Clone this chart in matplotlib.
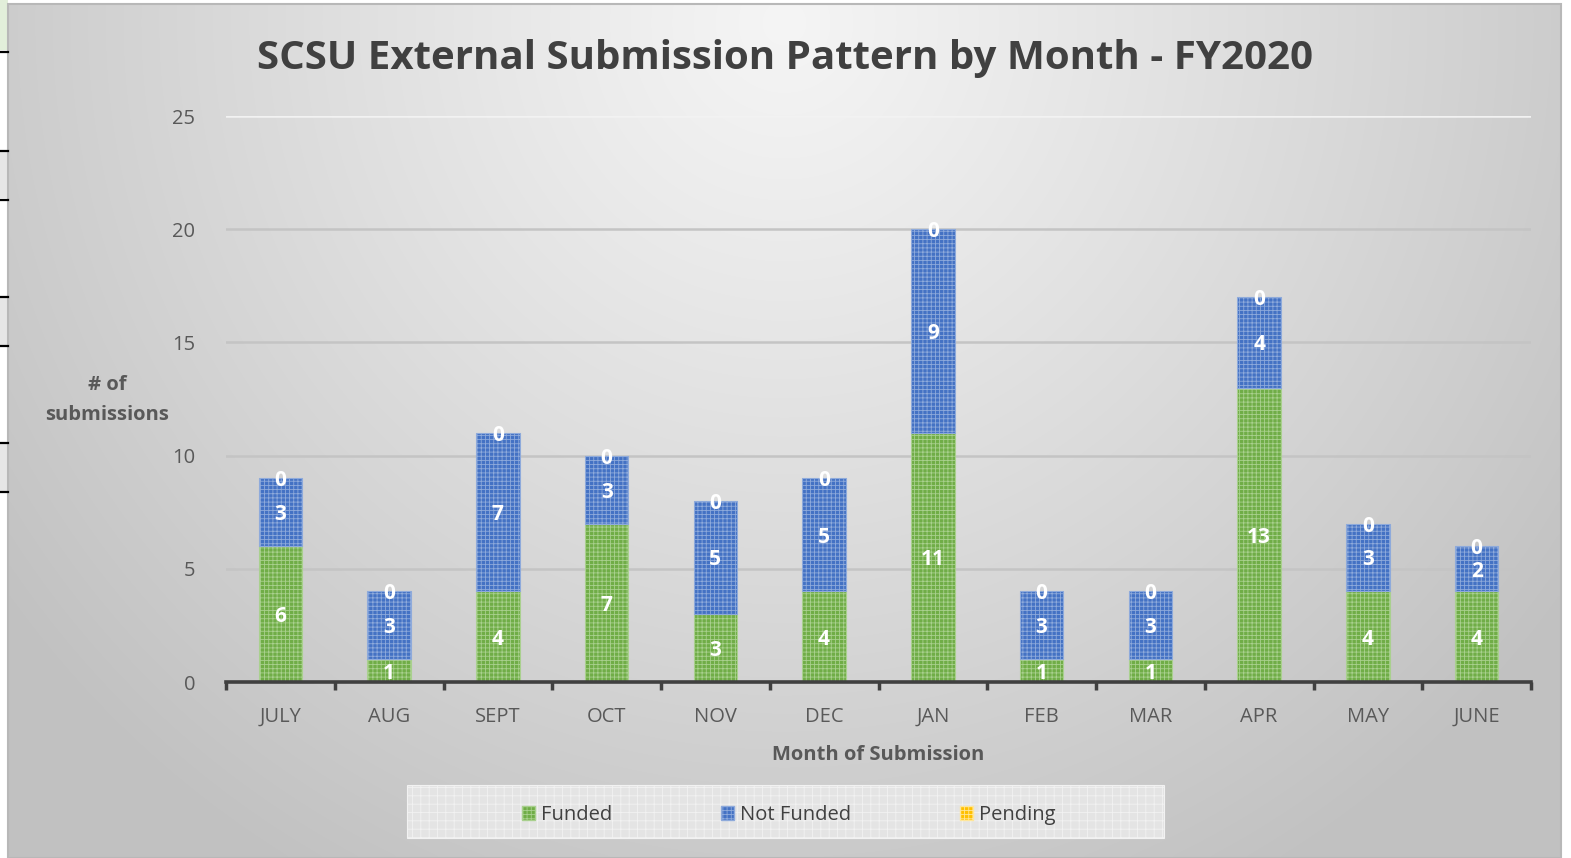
import numpy as np
import matplotlib
matplotlib.use("Agg")
import matplotlib.pyplot as plt
from matplotlib.patches import Rectangle, Patch
from matplotlib.lines import Line2D

months = ["JULY", "AUG", "SEPT", "OCT", "NOV", "DEC", "JAN", "FEB", "MAR", "APR", "MAY", "JUNE"]
funded = [6, 1, 4, 7, 3, 4, 11, 1, 1, 13, 4, 4]
not_funded = [3, 3, 7, 3, 5, 5, 9, 3, 3, 4, 3, 2]
pending = [0, 0, 0, 0, 0, 0, 0, 0, 0, 0, 0, 0]
series_names = ["Funded", "Not Funded", "Pending"]
yticks = [0, 5, 10, 15, 20, 25]

W, H = 1571, 858
plt.rcParams['font.family'] = ['Open Sans', 'DejaVu Sans']
plt.rcParams['hatch.linewidth'] = 0.6
fig = plt.figure(figsize=(W / 100, H / 100), dpi=100)
fig.patch.set_facecolor("white")

def fx(px):
    return px / W

def fy(py):
    return 1 - py / H

# spreadsheet remnants on the left edge
fig.add_artist(Rectangle((0, fy(50)), fx(8), 50 / H, transform=fig.transFigure, facecolor="#e2efda", edgecolor="none"))
for yy, h in [(150, 48), (297, 48), (443, 48)]:
    fig.add_artist(Rectangle((0, fy(yy + h)), fx(8), h / H, transform=fig.transFigure, facecolor="#e6e6e6", edgecolor="none"))
for yy in [52, 151, 200, 297, 346, 443, 492]:
    fig.add_artist(Line2D([0, fx(8)], [fy(yy), fy(yy)], transform=fig.transFigure, color="black", lw=1.6))

# gradient background of chart area
bg = fig.add_axes([fx(8), 0, fx(1561 - 8), fy(4)])
xx = np.linspace(0, 1, 400)
yy_ = np.linspace(0, 1, 220)
X, Y = np.meshgrid(xx, yy_)
R = np.sqrt(((X - 0.5) / 0.62) ** 2 + ((Y - 0.02) / 1.15) ** 2)
R = np.clip(R, 0, 1)
val = 0.96 - 0.2 * R ** 1.1
bg.imshow(np.dstack([val, val, val]), aspect="auto", extent=[0, 1, 1, 0], interpolation="bicubic")
bg.set_xlim(0, 1)
bg.set_ylim(1, 0)
bg.axis("off")
fig.add_artist(Rectangle((fx(8), 0), fx(1561 - 8), fy(4), transform=fig.transFigure, facecolor="none", edgecolor="#b8b8b8", lw=1.5))

# main axes
ax = fig.add_axes([fx(226), fy(682), fx(1531 - 226), (682 - 116) / H])
ax.patch.set_alpha(0)
x = np.arange(len(months))
colors = ["#70ad47", "#4472c4", "#ffc000"]
edges = ["#a9d08e", "#8eaadb", "none"]
lws = [0.8, 0.8, 0]
bottoms = np.zeros(len(months))
containers = []
for vals, c, e, lw, name in zip([funded, not_funded, pending], colors, edges, lws, series_names):
    bc = ax.bar(x, vals, width=0.4, bottom=bottoms, color=c, edgecolor=e, linewidth=lw,
                hatch="++++" if lw else None, label=name, zorder=3)
    containers.append(bc)
    bottoms = bottoms + np.array(vals)

for bc in containers:
    labs = ax.bar_label(bc, label_type="center", color="white", fontsize=15, fontweight="bold", zorder=5)
    for t in labs:
        t.set_va("center_baseline")

ax.set_xlim(-0.5, len(months) - 0.5)
ax.set_ylim(0, 25)
ax.set_yticks(yticks)
ax.set_yticklabels([str(t) for t in yticks])
ax.set_xticks(x)
ax.set_xticklabels(months)
ax.set_xticks(np.arange(-0.5, len(months), 1), minor=True)
ax.tick_params(axis="x", which="major", length=0, pad=18, labelsize=14.5, labelcolor="#595959")
ax.tick_params(axis="x", which="minor", length=6, width=2.5, color="#404040", direction="out")
ax.tick_params(axis="y", length=0, pad=22, labelsize=14.5, labelcolor="#595959")
for yv in yticks[1:]:
    ax.axhline(yv, color="#c4c4c4" if yv < 25 else "#f2f2f2", lw=1.8, zorder=1)
for s in ["top", "right", "left"]:
    ax.spines[s].set_visible(False)
ax.spines["bottom"].set_color("#404040")
ax.spines["bottom"].set_linewidth(2.6)
ax.spines["bottom"].set_zorder(4)
ax.set_xlabel("Month of Submission", fontsize=14.5, fontweight="bold", color="#595959", labelpad=13)

fig.text(fx(107), fy(400), "# of\nsubmissions", ha="center", va="center", fontsize=14.5,
         fontweight="bold", color="#595959", linespacing=1.6)
fig.text(fx(785), fy(58), "SCSU External Submission Pattern by Month - FY2020", ha="center", va="center",
         fontsize=29, fontweight="bold", color="#404040")

# legend box
fig.add_artist(Rectangle((fx(407), fy(838)), fx(1164 - 407), (838 - 785) / H, transform=fig.transFigure,
                         facecolor="#e4e4e4", edgecolor="#f2f2f2", lw=0.8, hatch="++", zorder=1))
handles = [Patch(facecolor=c, edgecolor=e, hatch="++++", label=n)
           for c, e, n in zip(colors, ["#a9d08e", "#8eaadb", "#ffe699"], series_names)]
leg = fig.legend(handles=handles, loc="center", bbox_to_anchor=(fx(789), fy(815)), ncol=3, frameon=False,
                 fontsize=14.5, handlelength=0.65, handleheight=0.65, handletextpad=0.3, columnspacing=5.4,
                 labelcolor="#404040")

fig.savefig("out.png", dpi=100)
